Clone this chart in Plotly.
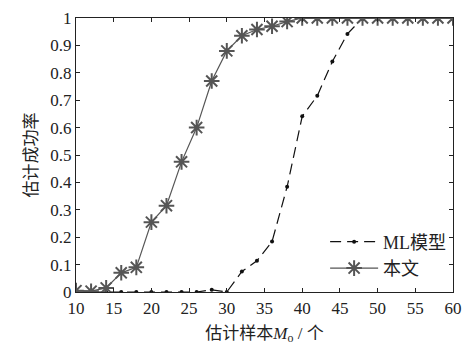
import plotly.graph_objects as go

x_vals = [10, 12, 14, 16, 18, 20, 22, 24, 26, 28, 30, 32, 34, 36, 38, 40, 42, 44, 46, 48, 50, 52, 54, 56, 58, 60]
ml_vals = [0, 0, 0, 0, 0, 0, 0, 0, 0, 0.008, 0, 0.075, 0.114, 0.184, 0.384, 0.641, 0.716, 0.841, 0.942, 1, 1, 1, 1, 1, 1, 1]
ours_vals = [0.005, 0.003, 0.015, 0.07, 0.09, 0.255, 0.315, 0.475, 0.60, 0.77, 0.88, 0.935, 0.958, 0.97, 0.987, 1, 1, 1, 1, 1, 1, 1, 1, 1, 1, 1]
x_ticks = [10, 15, 20, 25, 30, 35, 40, 45, 50, 55, 60]
y_ticks = [0, 0.1, 0.2, 0.3, 0.4, 0.5, 0.6, 0.7, 0.8, 0.9, 1]
y_tick_text = ["0", "0.1", "0.2", "0.3", "0.4", "0.5", "0.6", "0.7", "0.8", "0.9", "1"]

FONT = "Liberation Serif, DejaVu Serif, Noto Sans CJK SC, serif"

fig = go.Figure()
fig.add_trace(go.Scatter(
    x=x_vals, y=ml_vals, name="ML模型", mode="lines+markers",
    line=dict(color="#111111", width=1.2, dash="11px,6px"),
    marker=dict(symbol="circle", size=4, color="#111111"),
))
fig.add_trace(go.Scatter(
    x=x_vals, y=ours_vals, name="本文", mode="lines+markers",
    line=dict(color="#555555", width=1.2),
    marker=dict(symbol="asterisk-open", size=13, line=dict(color="#444444", width=2)),
))

axis_common = dict(
    showline=True, linecolor="#222222", linewidth=1.2, mirror="ticks",
    ticks="inside", ticklen=4, tickcolor="#222222", tickwidth=1,
    showgrid=False, zeroline=False, automargin=False,
    tickfont=dict(family=FONT, size=17, color="#222222"),
)

fig.update_layout(
    width=462, height=353,
    margin=dict(l=76, r=9, t=18, b=61),
    paper_bgcolor="white", plot_bgcolor="white",
    font=dict(family=FONT, color="#222222"),
    xaxis=dict(range=[10, 60], tickvals=x_ticks,
               title=dict(text="估计样本<i>M</i><sub>o</sub> / 个", font=dict(family=FONT, size=17), standoff=10),
               **axis_common),
    yaxis=dict(range=[0, 1], tickvals=y_ticks, ticktext=y_tick_text,
               title=dict(text="估计成功率", font=dict(family=FONT, size=17), standoff=8),
               **axis_common),
    legend=dict(x=0.995, y=0.25, xanchor="right", yanchor="top",
                bgcolor="rgba(0,0,0,0)", font=dict(family=FONT, size=18, color="#222222"),
                tracegroupgap=0, itemwidth=48),
    showlegend=True,
)

fig.write_html("out.html", config={"displayModeBar": False},
               post_script="document.body.style.margin='0px';document.body.style.overflow='hidden';")
